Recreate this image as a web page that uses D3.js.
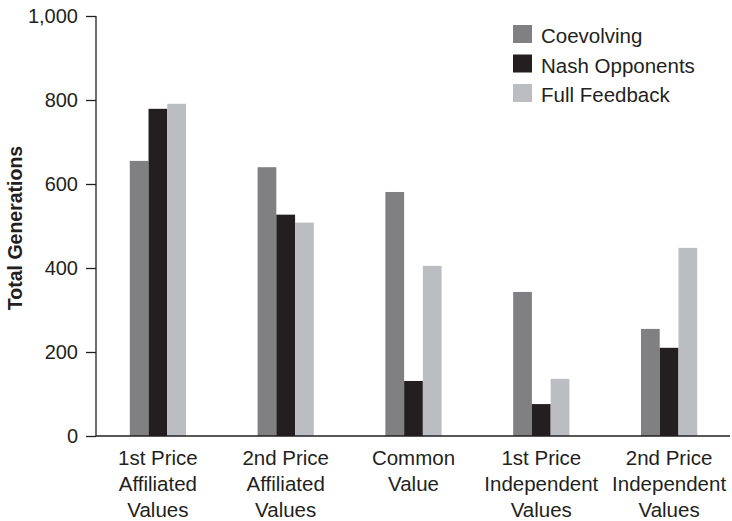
<!DOCTYPE html>
<html><head><meta charset="utf-8">
<script src="https://cdn.jsdelivr.net/npm/d3@7"></script>
<style>body{margin:0;background:#fff}svg{display:block}text{font-family:"Liberation Sans",Arial,sans-serif;fill:#231f20}</style>
</head><body><svg id="c" width="732" height="521"></svg>
<script>
const categories = [
  ["1st Price","Affiliated","Values"],
  ["2nd Price","Affiliated","Values"],
  ["Common","Value"],
  ["1st Price","Independent","Values"],
  ["2nd Price","Independent","Values"]
];
const seriesNames = ["Coevolving","Nash Opponents","Full Feedback"];
const coevolving = [655, 640, 581, 343, 255];
const nash = [779, 527, 131, 76, 210];
const fullFeedback = [791, 508, 405, 136, 448];
const yTicks = [0,200,400,600,800,1000];
const colors = ["#808083","#231f20","#bcbdc1"];

const values = [coevolving, nash, fullFeedback];
const svg = d3.select("#c");
const catKeys = categories.map((c,i)=>i);
const x = d3.scaleBand().domain(catKeys).range([94,733]).padding(0);
const groupW = x.bandwidth()*0.44;
const x1 = d3.scaleBand().domain(seriesNames).range([0,groupW]);
const y = d3.scaleLinear().domain([0,1000]).range([436,16]);

// bars
seriesNames.forEach((s,si)=>{
  svg.append("g").selectAll("rect").data(values[si]).join("rect")
    .attr("x",(d,i)=>x(i)+(x.bandwidth()-groupW)/2+x1(s))
    .attr("width",x1.bandwidth())
    .attr("y",d=>y(d))
    .attr("height",d=>y(0)-y(d))
    .attr("fill",colors[si]);
});

// y axis
const yAxis = d3.axisLeft(y).tickValues(yTicks).tickSize(10).tickPadding(8)
  .tickFormat(d3.format(","));
const gy = svg.append("g").attr("transform","translate(96,0)").call(yAxis);
gy.select(".domain").attr("stroke","#231f20").attr("stroke-width",1.3).attr("d","M0,16V436");
gy.selectAll(".tick line").attr("stroke","#231f20").attr("stroke-width",1.3);
gy.selectAll(".tick text").attr("font-size",20).style("fill","#231f20").attr("font-family","Liberation Sans, Arial, sans-serif");

// x axis line
svg.append("line").attr("x1",96).attr("x2",730).attr("y1",y(0)).attr("y2",y(0))
  .attr("stroke","#231f20").attr("stroke-width",1.6);

// x labels
const xl = svg.append("g");
categories.forEach((lines,i)=>{
  const t = xl.append("text").attr("text-anchor","middle").attr("font-size",20.5)
    .attr("x",x(i)+x.bandwidth()/2).attr("y",466);
  lines.forEach((ln,j)=>t.append("tspan").attr("x",x(i)+x.bandwidth()/2).attr("y",465+j*26).text(ln));
});

// y title
svg.append("text").attr("transform","translate(22,228) rotate(-90)")
  .attr("text-anchor","middle").attr("font-size",19.5).attr("font-weight","bold")
  .text("Total Generations");

// legend
const lg = svg.append("g");
seriesNames.forEach((s,i)=>{
  lg.append("rect").attr("x",513).attr("y",25+i*29.5).attr("width",19).attr("height",18).attr("fill",colors[i]);
  lg.append("text").attr("x",541).attr("y",43+i*29.5).attr("font-size",20.5).text(s);
});
</script></body></html>
